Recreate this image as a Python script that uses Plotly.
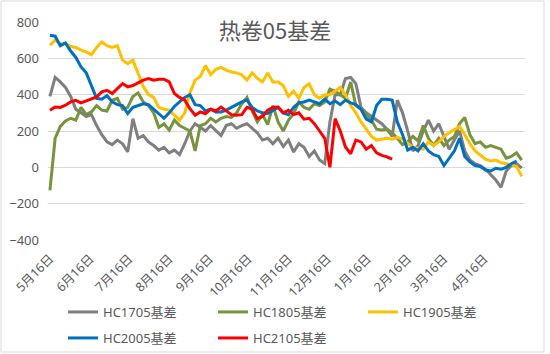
import pandas as pd
import plotly.graph_objects as go

# x categories: sampling dates (every 4 days from 5月16日)
dates = pd.date_range("2020-05-16", periods=92, freq="4D")

hc1705 = [390, 495, 470, 440, 390, 320, 300, 280, 290, 230, 180, 140, 125, 150, 130, 85,
          268, 160, 175, 140, 120, 95, 110, 80, 95, 70, 130, 200, 240, 220, 200, 230,
          200, 175, 230, 240, 215, 230, 240, 215, 190, 150, 160, 130, 160, 115, 150, 84,
          130, 110, 60, 90, 40, 20, 250, 400, 400, 489, 495, 460, 330, 300, 280, 260,
          240, 210, 170, 370, 300, 200, 90, 120, 200, 260, 200, 240, 170, 100, 150, 200,
          90, 40, 20, 10, -10, -40, -70, -110, -20, 10, 20, -5]

hc1805 = [-127, 160, 225, 255, 270, 260, 330, 290, 305, 340, 315, 310, 369, 380, 320, 330,
          390, 410, 360, 340, 300, 220, 240, 205, 260, 230, 215, 200, 90, 230, 240, 270,
          250, 270, 280, 275, 300, 350, 385, 310, 250, 290, 235, 340, 250, 200, 259, 296,
          360, 330, 320, 350, 340, 360, 430, 420, 400, 380, 470, 340, 320, 290, 260, 210,
          205, 210, 190, 160, 125, 140, 170, 145, 230, 160, 120, 160, 120, 150, 170, 240,
          275, 180, 130, 140, 110, 120, 110, 100, 50, 60, 80, 40]

hc1905 = [672, 700, 680, 680, 665, 660, 645, 635, 620, 660, 690, 670, 660, 670, 590, 570,
          590, 520, 445, 400, 385, 330, 320, 315, 290, 260, 300, 410, 480, 500, 560, 510,
          540, 550, 535, 525, 520, 510, 480, 520, 490, 470, 520, 470, 470, 450, 390, 420,
          380, 440, 460, 400, 380, 400, 400, 420, 440, 400, 340, 300, 250, 210, 170, 150,
          155, 160, 155, 165, 155, 135, 110, 105, 100, 140, 120, 140, 170, 190, 210, 225,
          180, 130, 90, 65, 45, 35, 40, 25, 20, 15, 5, -50]

hc2005 = [727, 722, 670, 685, 640, 605, 553, 520, 450, 380, 375, 395, 360, 345, 340, 296,
          330, 340, 350, 345, 320, 290, 270, 300, 335, 360, 385, 400, 345, 340, 310, 320,
          305, 305, 315, 330, 345, 360, 370, 330, 310, 300, 296, 315, 330, 300, 290, 330,
          355, 360, 370, 360, 350, 375, 350, 365, 345, 370, 355, 345, 320, 265, 250, 340,
          375, 375, 370, 250, 180, 95, 110, 90, 130, 90, 70, 60, 10, 50, 90, 160,
          60, 30, 10, 5, -15, -20, -5, -10, 0, 20, 35, None]

hc2105 = [314, 332, 330, 342, 360, 369, 355, 365, 378, 387, 415, 424, 406, 433, 461, 443,
          450, 465, 480, 489, 480, 485, 485, 470, 406, 385, 370, 323, 287, 305, 295, 320,
          310, 332, 310, 290, 287, 290, 330, 320, 268, 280, 315, 330, 332, 300, 314, 290,
          300, 265, 270, 240, 200, 160, 0, 268, 200, 112, 75, 150, 140, 100, 120, 80,
          66, 58, 45] + [None] * 25

series_names = ["HC1705基差", "HC1805基差", "HC1905基差", "HC2005基差", "HC2105基差"]
series_values = [hc1705, hc1805, hc1905, hc2005, hc2105]
series_colors = ["#7F7F7F", "#77933C", "#FFC000", "#0070C0", "#FF0000"]
series_legend = ["legend", "legend", "legend", "legend2", "legend2"]

tick_dates = pd.date_range("2020-05-01", periods=12, freq="MS") + pd.Timedelta(days=15)
tick_text = [f"{d.month}月16日" for d in tick_dates]

font_family = "Noto Sans, Noto Sans CJK SC, sans-serif"
text_color = "#595959"

fig = go.Figure()
for name, vals, col, lg in zip(series_names, series_values, series_colors, series_legend):
    fig.add_trace(go.Scatter(
        x=dates, y=vals, name=name, mode="lines",
        line=dict(color=col, width=3), legend=lg, connectgaps=False,
    ))

W, H = 550, 354
ml, mr, mt, mb = 48, 25, 22, 114
pw, ph = W - ml - mr, H - mt - mb

def px2paper_x(px):
    return (px - ml) / pw

def py2paper_y(py):
    return (H - mb - py) / ph

fig.update_layout(
    width=W, height=H,
    margin=dict(l=ml, r=mr, t=mt, b=mb, autoexpand=False),
    paper_bgcolor="white", plot_bgcolor="white",
    font=dict(family=font_family, color=text_color, size=12),
    title=dict(text="热卷05基差", x=0.5, xanchor="center", y=1 - 31 / H, yanchor="middle",
               font=dict(size=22, color=text_color, family="Noto Sans CJK SC")),
    xaxis=dict(
        type="date", automargin=False,
        range=[pd.Timestamp("2020-05-14 12:00"), pd.Timestamp("2021-05-17 12:00")],
        tickmode="array", tickvals=tick_dates, ticktext=tick_text,
        tickangle=-45, showgrid=False, zeroline=False, showline=False,
        ticks="", tickfont=dict(size=12.5, color=text_color), ticklabelstandoff=8,
    ),
    yaxis=dict(
        range=[-400, 800], tickmode="array", tickvals=[-400, -200, 0, 200, 400, 600, 800],
        showgrid=True, gridcolor="#D9D9D9", gridwidth=1, zeroline=False, showline=False,
        ticks="", tickfont=dict(size=13, color=text_color), ticklabelstandoff=8,
        automargin=False,
    ),
    legend=dict(
        orientation="h", x=px2paper_x(63), y=py2paper_y(297), xanchor="left", yanchor="top",
        entrywidth=105, font=dict(size=13, color=text_color), bgcolor="rgba(0,0,0,0)",
        itemwidth=30,
    ),
    legend2=dict(
        orientation="h", x=px2paper_x(63), y=py2paper_y(323), xanchor="left", yanchor="top",
        entrywidth=105, font=dict(size=13, color=text_color), bgcolor="rgba(0,0,0,0)",
        itemwidth=30,
    ),
    shapes=[dict(
        type="rect", xref="paper", yref="paper",
        x0=px2paper_x(1), x1=px2paper_x(544), y0=py2paper_y(352), y1=py2paper_y(1),
        line=dict(color="#D9D9D9", width=1), fillcolor="rgba(0,0,0,0)", layer="below",
    )],
)

fig.write_html("out.html")
